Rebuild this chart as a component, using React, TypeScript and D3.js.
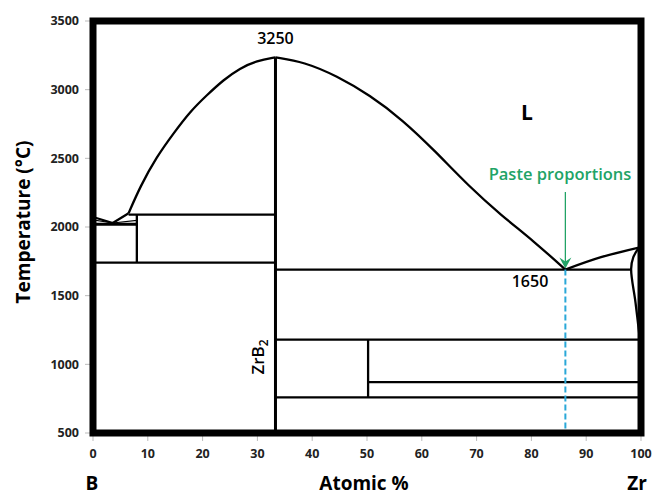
import React from "react";
import * as d3 from "d3";

// phase diagram B–Zr
const xTicks = [0, 10, 20, 30, 40, 50, 60, 70, 80, 90, 100];
const yTicks = [500, 1000, 1500, 2000, 2500, 3000, 3500];

const leftLiquidus: [number, number][] = [
  [6.5, 2100], [8.6, 2294], [11.6, 2510], [14.7, 2682], [17.7, 2840],
  [20.8, 2961], [23.8, 3071], [26.8, 3156], [29.9, 3211], [33.3, 3235],
];
const rightLiquidus: [number, number][] = [
  [33.3, 3235], [38.5, 3202], [44.5, 3100], [50.5, 2960], [56.5, 2780],
  [62.5, 2550], [68.5, 2300], [74.5, 2085], [80.5, 1895], [86.2, 1690],
];
const zrLiquidus: [number, number][] = [[86.2, 1690], [92.7, 1780], [99.6, 1850]];
const zrSolvus: [number, number][] = [[99.6, 1850], [98.6, 1780], [98.2, 1695], [99.0, 1450], [99.8, 1180]];
const boronV: [number, number][] = [[0, 2073], [3.6, 2029], [6.5, 2100]];
const boronLens: [number, number][] = [[0, 2052], [3.6, 2029], [8, 2048]];

const isotherms = [
  { x1: 6.5, x2: 33.3, t: 2090 },
  { x1: 0, x2: 8, t: 2020 },
  { x1: 0, x2: 33.3, t: 1740 },
  { x1: 33.3, x2: 98.2, t: 1690 },
  { x1: 33.3, x2: 100, t: 1180 },
  { x1: 50.2, x2: 100, t: 870 },
  { x1: 33.3, x2: 100, t: 760 },
];
const verticals = [
  { x: 8, t1: 1740, t2: 2090 },
  { x: 33.3, t1: 500, t2: 3235 },
  { x: 50.2, t1: 760, t2: 1180 },
];
const eutectic = { x: 86.2, t: 1690 };

const W = 653;
const H = 496;
const font = "'Open Sans', sans-serif";

export default function App() {
  const x = d3.scaleLinear().domain([0, 100]).range([93, 641]);
  const y = d3.scaleLinear().domain([500, 3500]).range([433, 21]);
  const smooth = d3.line<[number, number]>().x((d) => x(d[0])).y((d) => y(d[1])).curve(d3.curveBasis);
  const soft = d3.line<[number, number]>().x((d) => x(d[0])).y((d) => y(d[1])).curve(d3.curveCatmullRom.alpha(0.5));
  const straight = d3.line<[number, number]>().x((d) => x(d[0])).y((d) => y(d[1]));

  const green = "#21a366";
  const ex = x(eutectic.x);
  const ey = y(eutectic.t);

  return (
    <svg width={W} height={H} style={{ position: "absolute", left: 0, top: 0, background: "#fff" }} fontFamily={font}>
      {/* ticks */}
      {yTicks.map((t) => (
        <g key={"y" + t}>
          <line x1={x(0) - 8} x2={x(0)} y1={y(t)} y2={y(t)} stroke="#bbb" strokeWidth={1} />
          <text x={79} y={y(t)} dy="0.35em" textAnchor="end" fontSize={12.5} fontWeight={700} fill="#222">{t}</text>
        </g>
      ))}
      {xTicks.map((v) => (
        <g key={"x" + v}>
          <line x1={x(v)} x2={x(v)} y1={y(500)} y2={y(500) + 8} stroke="#bbb" strokeWidth={1} />
          <text x={x(v)} y={454} dy="0.35em" textAnchor="middle" fontSize={12.5} fontWeight={700} fill="#222">{v}</text>
        </g>
      ))}

      {/* phase boundaries */}
      <g fill="none" stroke="#000" strokeWidth={2.3} strokeLinejoin="round">
        <path d={smooth(leftLiquidus) ?? ""} />
        <path d={smooth(rightLiquidus) ?? ""} />
        <path d={soft(zrLiquidus) ?? ""} />
        <path d={soft(zrSolvus) ?? ""} />
        <path d={straight(boronV) ?? ""} />
        <path d={straight(boronLens) ?? ""} strokeWidth={1.2} />
        {isotherms.map((h, i) => (
          <line key={"h" + i} x1={x(h.x1)} x2={x(h.x2)} y1={y(h.t)} y2={y(h.t)} strokeWidth={h.t === 2020 ? 3 : 2.3} />
        ))}
        {verticals.map((v, i) => (
          <line key={"v" + i} x1={x(v.x)} x2={x(v.x)} y1={y(v.t1)} y2={y(v.t2)} strokeWidth={v.x === 33.3 ? 3 : 2.3} />
        ))}
      </g>

      {/* paste proportion marker */}
      <line x1={ex} x2={ex} y1={ey} y2={y(500)} stroke="#2aa8d8" strokeWidth={2} strokeDasharray="6,3" />
      <line x1={ex} x2={ex} y1={192} y2={ey - 6} stroke={green} strokeWidth={1.3} />
      <path d={`M${ex - 6},${ey - 12} L${ex},${ey - 1} L${ex + 6},${ey - 12} L${ex},${ey - 8} Z`} fill={green} />
      <text x={560} y={180} textAnchor="middle" fontSize={16.5} fontWeight={600} fill={green}>Paste proportions</text>

      {/* frame */}
      <rect x={x(0)} y={y(3500)} width={x(100) - x(0)} height={y(500) - y(3500)} fill="none" stroke="#000" strokeWidth={7} />

      {/* annotations */}
      <text x={x(33.3)} y={44} textAnchor="middle" fontSize={16} fontWeight={600}>3250</text>
      <text x={530} y={287} textAnchor="middle" fontSize={16} fontWeight={600}>1650</text>
      <text x={527} y={120} textAnchor="middle" fontSize={21} fontWeight={700}>L</text>
      <text transform={`translate(264,357) rotate(-90)`} textAnchor="middle" fontSize={17} fontWeight={600}>
        ZrB<tspan fontSize={12} dy={4}>2</tspan>
      </text>

      <text transform="translate(30,222) rotate(-90)" textAnchor="middle" fontSize={19} fontWeight={700}>Temperature (°C)</text>
      <text x={92} y={490} textAnchor="middle" fontSize={19} fontWeight={700}>B</text>
      <text x={364} y={490} textAnchor="middle" fontSize={19} fontWeight={700}>Atomic %</text>
      <text x={637} y={490} textAnchor="middle" fontSize={19} fontWeight={700}>Zr</text>
    </svg>
  );
}
